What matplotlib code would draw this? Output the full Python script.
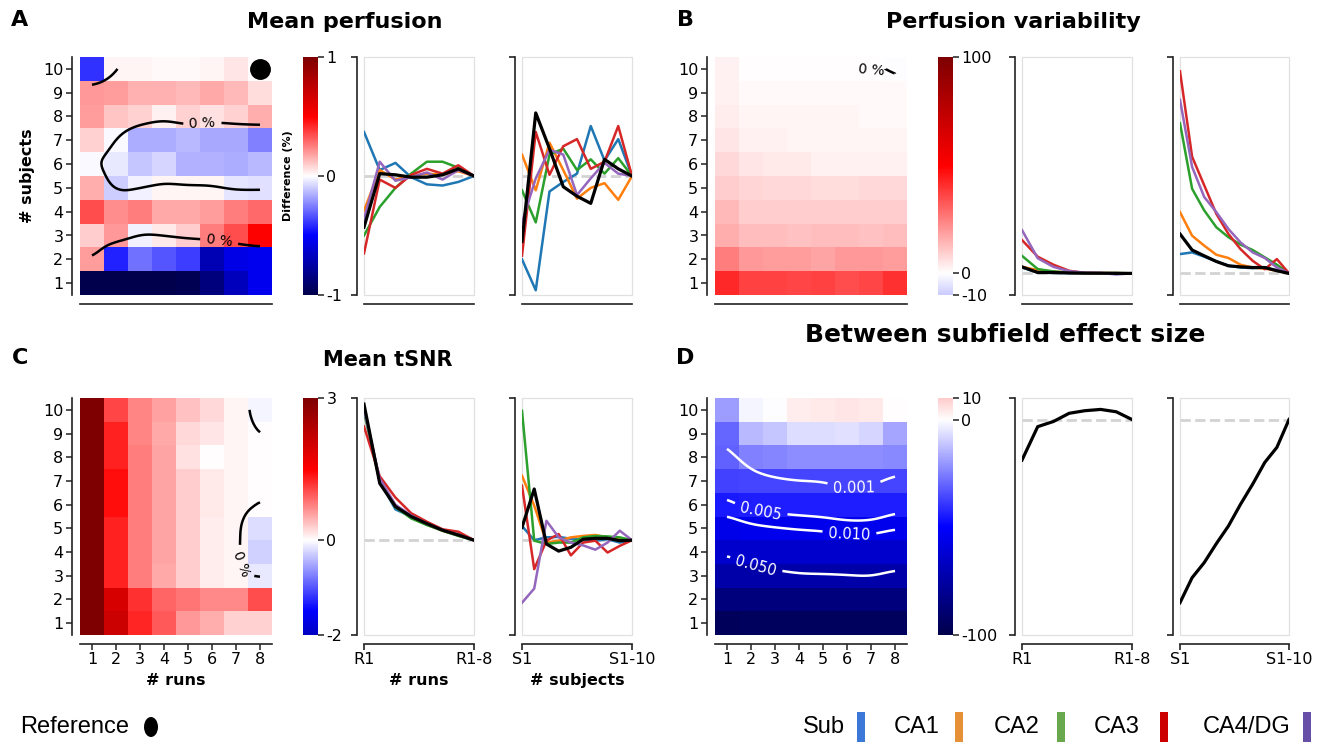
import numpy as np
import matplotlib
matplotlib.use('Agg')
import matplotlib.pyplot as plt
from matplotlib.colors import Normalize
from matplotlib.patches import Rectangle, Ellipse

plt.rcParams['axes.unicode_minus'] = False
plt.rcParams['font.family'] = ['DejaVu Sans']

runs = [1, 2, 3, 4, 5, 6, 7, 8]
subjects = [1, 2, 3, 4, 5, 6, 7, 8, 9, 10]
ref_run, ref_subject = 8, 10

regions = ['Sub', 'CA1', 'CA2', 'CA3', 'CA4/DG']
line_colors = ['#1f77b4', '#ff7f0e', '#2ca02c', '#d62728', '#9467bd', 'black']
legend_colors = ['#3c78d8', '#e69138', '#6aa84f', '#cc0000', '#674ea7']

# heatmaps: one row per number of subjects (1..10), one column per number of runs (1..8)
perf_mean_diff = [
    [-1.00, -1.00, -1.00, -1.00, -0.98, -0.86, -0.68, -0.54],
    [0.19, -0.43, -0.28, -0.33, -0.38, -0.71, -0.57, -0.54],
    [0.10, 0.20, -0.03, 0.04, 0.10, 0.25, 0.35, 0.50],
    [0.35, 0.22, 0.25, 0.17, 0.17, 0.19, 0.25, 0.29],
    [0.16, -0.10, -0.03, 0.02, 0.02, 0.02, -0.05, -0.06],
    [-0.01, -0.04, -0.11, -0.08, -0.15, -0.15, -0.16, -0.14],
    [0.09, -0.01, -0.16, -0.16, -0.14, -0.17, -0.17, -0.25],
    [0.19, 0.11, 0.09, 0.03, 0.09, 0.06, 0.09, 0.16],
    [0.20, 0.19, 0.15, 0.15, 0.14, 0.17, 0.14, 0.07],
    [-0.40, 0.02, 0.02, 0.01, 0.01, 0.02, 0.05, 0.00],
]
perf_var_diff = [
    [42, 37, 37, 36, 37, 35, 36, 40],
    [25, 20, 19, 19, 17.5, 20, 20, 19],
    [16, 12.5, 12.5, 12, 12.5, 12.5, 12, 12.5],
    [14, 10, 9.5, 9.5, 10, 9.5, 9.5, 10],
    [10, 8, 7.5, 7.5, 7, 7, 7.5, 7.5],
    [7.5, 5, 4, 4, 3, 3, 3, 3],
    [5, 3, 3, 2, 2, 2, 2, 2],
    [3.5, 2, 2, 2, 2, 2, 1.5, 1.5],
    [2.5, 1.5, 1.5, 1.5, 1.5, 1.5, 1, 0.8],
    [3, 0.6, 0.5, 0.4, 0.4, 0.3, 0.3, -0.2],
]
tsnr_mean_diff = [
    [3.0, 2.10, 1.27, 0.97, 0.60, 0.48, 0.27, 0.27],
    [3.0, 1.95, 1.20, 0.90, 0.80, 0.68, 0.68, 1.05],
    [3.0, 1.30, 0.75, 0.50, 0.30, 0.10, 0.06, -0.12],
    [3.0, 1.30, 0.75, 0.52, 0.30, 0.10, 0.06, -0.27],
    [3.0, 1.30, 0.75, 0.52, 0.30, 0.10, 0.05, -0.20],
    [3.0, 1.42, 0.75, 0.52, 0.30, 0.12, 0.06, 0.00],
    [3.0, 1.42, 0.75, 0.52, 0.30, 0.12, 0.06, 0.02],
    [3.0, 1.30, 0.75, 0.52, 0.18, 0.02, 0.05, 0.02],
    [3.0, 1.30, 0.72, 0.50, 0.22, 0.15, 0.05, 0.00],
    [3.0, 1.10, 0.72, 0.55, 0.37, 0.22, 0.06, -0.05],
]
effect_size_diff = [
    [-96, -95, -95, -95, -95, -95, -95, -95],
    [-86, -86, -86, -86, -86, -86, -86, -86],
    [-74, -74, -74, -74, -74, -74, -74, -74],
    [-64, -64, -64, -64, -64, -64, -64, -64],
    [-56, -55, -55, -55, -55, -55, -55, -55],
    [-45, -44, -44, -44, -44, -44, -44, -44],
    [-37, -36, -36, -36, -36, -36, -36, -36],
    [-31, -25, -24, -22, -22, -22, -22, -23],
    [-30, -14, -11, -6.5, -6.5, -6, -8.5, -17.5],
    [-19, -2, -0.5, 3.5, 4, 5, 4, 0],
]
effect_log10_p = [
    [-0.30, -0.40, -0.45, -0.50, -0.50, -0.50, -0.50, -0.45],
    [-0.60, -0.80, -0.85, -0.90, -0.90, -0.90, -0.92, -0.85],
    [-0.95, -1.15, -1.20, -1.27, -1.27, -1.28, -1.32, -1.20],
    [-1.35, -1.50, -1.60, -1.63, -1.65, -1.70, -1.70, -1.60],
    [-1.75, -1.90, -1.95, -2.00, -2.02, -2.10, -2.10, -2.00],
    [-2.20, -2.45, -2.50, -2.55, -2.60, -2.70, -2.70, -2.45],
    [-2.55, -2.85, -2.95, -3.00, -3.00, -3.15, -3.10, -2.90],
    [-2.85, -3.20, -3.35, -3.45, -3.45, -3.55, -3.50, -3.30],
    [-3.10, -3.60, -3.75, -3.90, -3.90, -3.95, -3.90, -3.60],
    [-3.30, -3.90, -4.10, -4.30, -4.30, -4.30, -4.20, -3.80],
]
p_levels = [0.001, 0.005, 0.01, 0.05]

# line plots: Sub, CA1, CA2, CA3, CA4/DG, all (black)
perf_mean_runs = [
    [0.37, 0.05, 0.11, -0.01, -0.07, -0.08, -0.05, 0.0],
    [-0.29, 0.05, -0.03, 0.00, 0.02, 0.01, 0.04, 0.0],
    [-0.50, -0.26, -0.10, 0.02, 0.12, 0.12, 0.07, 0.0],
    [-0.65, -0.03, -0.10, 0.01, 0.06, 0.02, 0.09, 0.0],
    [-0.36, 0.12, -0.04, -0.01, 0.03, -0.03, 0.05, 0.0],
    [-0.43, 0.02, 0.01, -0.01, -0.01, 0.01, 0.06, 0.0],
]
perf_mean_subjects = [
    [-0.70, -0.96, -0.13, -0.05, 0.02, 0.42, 0.13, 0.31, 0.0],
    [0.18, -0.12, 0.28, 0.05, -0.19, -0.10, -0.06, -0.20, 0.0],
    [-0.12, -0.39, 0.18, 0.23, 0.05, 0.14, 0.02, 0.15, 0.0],
    [-0.67, 0.37, 0.01, 0.25, 0.31, 0.06, 0.12, 0.42, 0.0],
    [-0.39, -0.02, 0.22, 0.18, -0.16, -0.02, 0.11, 0.02, 0.0],
    [-0.55, 0.53, 0.23, -0.09, -0.17, -0.23, 0.14, 0.06, 0.0],
]
perf_var_runs = [
    [2.7, 0.4, 0.2, 0.1, 0.0, 0.0, 0.0, 0.0],
    [3.0, 1.5, 0.8, 0.3, 0.1, 0.1, 0.1, 0.0],
    [8.1, 2.0, 0.9, 0.4, 0.1, 0.1, 0.2, 0.0],
    [15.4, 7.7, 4.0, 1.2, 0.2, 0.1, 0.1, 0.0],
    [20.0, 7.0, 3.0, 1.0, 0.3, 0.2, -0.5, 0.0],
    [3.0, 0.4, 0.4, 0.2, 0.1, 0.1, 0.0, 0.0],
]
perf_var_subjects = [
    [8.9, 9.7, 7.7, 5.5, 3.5, 2.7, 2.4, 2.7, 1.5, 0.0],
    [28.3, 17.4, 12.8, 8.6, 7.1, 4.0, 2.7, 2.2, 1.2, 0.0],
    [69.4, 39.1, 29.1, 21.3, 16.7, 13.3, 10.8, 7.4, 4.0, 0.0],
    [93.4, 53.9, 40.7, 27.5, 18.2, 11.2, 5.8, 1.9, 6.6, 0.0],
    [80.2, 49.2, 35.3, 28.3, 20.5, 14.3, 9.7, 7.1, 2.7, 0.0],
    [18.2, 10.8, 8.1, 5.5, 3.5, 3.0, 2.7, 2.7, 1.2, 0.0],
]
tsnr_runs = [
    [2.80, 1.25, 0.65, 0.50, 0.37, 0.22, 0.12, 0.0],
    [2.80, 1.25, 0.72, 0.48, 0.33, 0.20, 0.10, 0.0],
    [2.70, 1.24, 0.70, 0.46, 0.32, 0.20, 0.09, 0.0],
    [2.40, 1.35, 0.90, 0.57, 0.39, 0.23, 0.18, 0.0],
    [2.75, 1.30, 0.75, 0.52, 0.35, 0.21, 0.11, 0.0],
    [2.87, 1.20, 0.71, 0.50, 0.35, 0.21, 0.11, 0.0],
]
tsnr_subjects = [
    [0.30, 0.00, 0.06, 0.07, 0.03, 0.02, -0.01, 0.02, -0.05, 0.0],
    [1.36, 0.73, -0.05, -0.01, 0.06, 0.09, 0.11, 0.06, 0.02, 0.0],
    [2.73, -0.01, -0.08, -0.05, -0.05, 0.06, 0.09, 0.08, 0.06, 0.0],
    [1.15, -0.61, -0.01, 0.13, -0.32, -0.05, -0.01, -0.26, -0.12, 0.0],
    [-1.32, -1.02, 0.41, 0.06, -0.05, -0.11, -0.20, -0.05, 0.20, 0.0],
    [0.27, 1.08, -0.08, -0.23, -0.15, 0.02, 0.04, 0.04, -0.01, 0.0],
]
effect_runs = [-18.8, -3.3, -0.9, 2.9, 4.1, 4.7, 3.6, 0.0]
effect_subjects = [-85.0, -73.4, -66.4, -57.6, -49.4, -39.3, -30.0, -19.9, -12.9, 0.0]

W, H = 1326, 742
SPINE = '#222222'
fig = plt.figure(figsize=(W / 100, H / 100), dpi=100)


def px_axes(x0, y0, x1, y1):
    return fig.add_axes([x0 / W, 1 - y1 / H, (x1 - x0) / W, (y1 - y0) / H])


def smooth_grid(z, step=10, sigma=4):
    # finer grid between cell centres, only used to draw smooth contours
    z = np.asarray(z, float)
    ny, nx = z.shape
    fx = np.linspace(0, nx - 1, (nx - 1) * step + 1)
    fy = np.linspace(0, ny - 1, (ny - 1) * step + 1)
    zx = np.array([np.interp(fx, np.arange(nx), r) for r in z])
    zz = np.array([np.interp(fy, np.arange(ny), c) for c in zx.T]).T
    if sigma:
        k = np.exp(-0.5 * (np.arange(-3 * sigma, 3 * sigma + 1) / sigma) ** 2)
        k /= k.sum()
        p = 3 * sigma
        zp = np.pad(zz, p, mode='edge')
        zp = np.apply_along_axis(np.convolve, 1, zp, k, mode='same')
        zp = np.apply_along_axis(np.convolve, 0, zp, k, mode='same')
        zz = zp[p:-p, p:-p]
    return fx + 1, fy + 1, zz


def draw_heat(ax, data, vmax, bottom_row):
    ax.imshow(np.array(data, float), origin='lower', extent=[0.5, 8.5, 0.5, 10.5],
              aspect='auto', cmap='seismic', norm=Normalize(-vmax, vmax),
              interpolation='nearest')
    ax.set_xlim(0.5, 8.5)
    ax.set_ylim(0.5, 10.5)
    for s in ['top', 'right']:
        ax.spines[s].set_visible(False)
    ax.spines['left'].set_position(('outward', 6))
    ax.spines['bottom'].set_position(('outward', 6.5))
    for s in ['left', 'bottom']:
        ax.spines[s].set_color(SPINE)
        ax.spines[s].set_linewidth(1.2)
    ax.set_yticks(subjects)
    if bottom_row:
        ax.set_xticks(runs)
    else:
        ax.set_xticks([])
    ax.tick_params(labelsize=11.5, length=4, width=1.1, color=SPINE, pad=2)


def draw_cbar(cax, vmax, ticks):
    lo, hi = ticks[0], ticks[-1]
    grad = np.linspace(lo, hi, 400)[:, None]
    cax.imshow(grad, extent=[0, 1, lo, hi], origin='lower', aspect='auto',
               cmap='seismic', norm=Normalize(-vmax, vmax))
    cax.set_xlim(0, 1)
    cax.set_ylim(lo, hi)
    for s in cax.spines.values():
        s.set_visible(False)
    cax.set_xticks([])
    cax.yaxis.tick_right()
    cax.set_yticks(ticks)
    cax.set_yticklabels([str(t) for t in ticks])
    cax.tick_params(labelsize=11.5, length=4, width=1.1, color=SPINE, pad=2)


def draw_lines(ax, series, colors, lo, hi, bottom_row, ticklabels):
    ax.axhline(0, color='#d3d3d3', ls='--', lw=2, zorder=1)
    for vals, col in zip(series, colors):
        x = np.linspace(0, 1, len(vals))
        black = col == 'black'
        ax.plot(x, vals, color=col, lw=2.3 if black else 1.8, zorder=3 if black else 2)
    ax.set_xlim(0, 1)
    ax.set_ylim(lo, hi)
    ax.add_patch(Rectangle((0, 0), 1, 1, transform=ax.transAxes, fill=False,
                           ec='#e0e0e0', lw=0.9, clip_on=False, zorder=0))
    for s in ['top', 'right']:
        ax.spines[s].set_visible(False)
    ax.spines['left'].set_position(('outward', 5))
    ax.spines['bottom'].set_position(('outward', 6.5))
    for s in ['left', 'bottom']:
        ax.spines[s].set_color(SPINE)
        ax.spines[s].set_linewidth(1.2)
    ax.set_yticks([lo, hi])
    ax.set_yticklabels([])
    if bottom_row:
        ax.set_xticks([0, 1])
        ax.set_xticklabels(ticklabels)
    else:
        ax.set_xticks([])
    ax.tick_params(labelsize=11.5, length=4, width=1.2, color=SPINE, pad=2)


top, bottom = (57, 295), (398, 635)
left_cols = [(80, 272), (303, 318), (364, 474), (522, 632)]
right_cols = [(715, 907), (938, 953), (1022, 1132), (1180, 1289)]
run_labels = ['R1', 'R1-8']
subj_labels = ['S1', 'S1-10']
bold = dict(fontweight='bold', fontsize=11.5)

# ---- A: mean perfusion
cols, (y0, y1) = left_cols, top
ax = px_axes(cols[0][0], y0, cols[0][1], y1)
draw_heat(ax, perf_mean_diff, 1, False)
fx, fy, fz = smooth_grid(perf_mean_diff, sigma=4)
cs = ax.contour(fx, fy, fz, levels=[0], colors='black', linewidths=1.8, linestyles='solid')
ax.clabel(cs, fmt={0: '0 %'}, fontsize=10, inline=True, inline_spacing=6)
ax.plot(ref_run, ref_subject, 'o', color='black', ms=14, clip_on=False)
ax.set_ylabel('# subjects', labelpad=6, **bold)
draw_cbar(px_axes(cols[1][0], y0, cols[1][1], y1), 1, [-1, 0, 1])
draw_lines(px_axes(cols[2][0], y0, cols[2][1], y1), perf_mean_runs, line_colors, -1, 1, False, run_labels)
draw_lines(px_axes(cols[3][0], y0, cols[3][1], y1), perf_mean_subjects, line_colors, -1, 1, False, subj_labels)
fig.text(288 / W, 1 - 176 / H, 'Difference (%)', rotation=90, ha='center', va='center',
         fontsize=8, fontweight='bold')

# ---- B: perfusion variability
cols, (y0, y1) = right_cols, top
ax = px_axes(cols[0][0], y0, cols[0][1], y1)
draw_heat(ax, perf_var_diff, 100, False)
fx, fy, fz = smooth_grid(perf_var_diff, sigma=0)
ax.contour(fx, fy, fz, levels=[0], colors='black', linewidths=1.8, linestyles='solid')
ax.text(7.0, 9.95, '0 %', fontsize=10, ha='center', va='center', rotation=-5)
draw_cbar(px_axes(cols[1][0], y0, cols[1][1], y1), 100, [-10, 0, 100])
draw_lines(px_axes(cols[2][0], y0, cols[2][1], y1), perf_var_runs, line_colors, -10, 100, False, run_labels)
draw_lines(px_axes(cols[3][0], y0, cols[3][1], y1), perf_var_subjects, line_colors, -10, 100, False, subj_labels)

# ---- C: mean tSNR
cols, (y0, y1) = left_cols, bottom
ax = px_axes(cols[0][0], y0, cols[0][1], y1)
draw_heat(ax, tsnr_mean_diff, 3, True)
fx, fy, fz = smooth_grid(tsnr_mean_diff, sigma=2)
cs = ax.contour(fx, fy, fz, levels=[0], colors='black', linewidths=1.8, linestyles='solid')
ax.clabel(cs, fmt={0: '0 %'}, fontsize=10, inline=True, inline_spacing=6)
ax.set_xlabel('# runs', labelpad=4, **bold)
draw_cbar(px_axes(cols[1][0], y0, cols[1][1], y1), 3, [-2, 0, 3])
a = px_axes(cols[2][0], y0, cols[2][1], y1)
draw_lines(a, tsnr_runs, line_colors, -2, 3, True, run_labels)
a.set_xlabel('# runs', labelpad=4, **bold)
a = px_axes(cols[3][0], y0, cols[3][1], y1)
draw_lines(a, tsnr_subjects, line_colors, -2, 3, True, subj_labels)
a.set_xlabel('# subjects', labelpad=4, **bold)

# ---- D: between subfield effect size
cols, (y0, y1) = right_cols, bottom
ax = px_axes(cols[0][0], y0, cols[0][1], y1)
draw_heat(ax, effect_size_diff, 100, True)
fx, fy, fz = smooth_grid(effect_log10_p, sigma=4)
lv = list(np.log10(p_levels))
cs = ax.contour(fx, fy, fz, levels=lv, colors='white', linewidths=1.8, linestyles='solid')
ax.clabel(cs, fmt={l: '%.3f' % p for l, p in zip(lv, p_levels)}, fontsize=10.5,
          inline=True, inline_spacing=6, colors='white')
draw_cbar(px_axes(cols[1][0], y0, cols[1][1], y1), 100, [-100, 0, 10])
draw_lines(px_axes(cols[2][0], y0, cols[2][1], y1), [effect_runs], ['black'], -100, 10, True, run_labels)
draw_lines(px_axes(cols[3][0], y0, cols[3][1], y1), [effect_subjects], ['black'], -100, 10, True, subj_labels)

# titles and panel letters
title_kw = dict(fontsize=16, fontweight='bold', ha='center', va='center')
fig.text(345 / W, 1 - 22 / H, 'Mean perfusion', **title_kw)
fig.text(1013 / W, 1 - 22 / H, 'Perfusion variability', **title_kw)
fig.text(388 / W, 1 - 360 / H, 'Mean tSNR', **dict(title_kw, fontsize=15))
fig.text(1005 / W, 1 - 335 / H, 'Between subfield effect size',
         **dict(title_kw, fontsize=18))
for letter, (lx, ly) in zip('ABCD', [(20, 20), (685, 20), (20, 358), (685, 358)]):
    fig.text(lx / W, 1 - ly / H, letter, **title_kw)

# legend
leg_font = dict(family='Liberation Sans', fontsize=17, va='center')
fig.text(20 / W, 1 - 727 / H, 'Reference', ha='left', **leg_font)
fig.add_artist(Ellipse((151 / W, 1 - 727 / H), 14 / W, 20 / H,
                       transform=fig.transFigure, color='black', lw=0))
leg_pos = [(845, 857), (940, 955), (1040, 1057), (1140, 1160), (1290, 1303)]
for name, col, (tx, rx) in zip(regions, legend_colors, leg_pos):
    fig.text(tx / W, 1 - 727 / H, name, ha='right', **leg_font)
    fig.add_artist(Rectangle((rx / W, 0), 8 / W, 30 / H, transform=fig.transFigure,
                             color=col, lw=0))

fig.savefig('out.png', dpi=100)
